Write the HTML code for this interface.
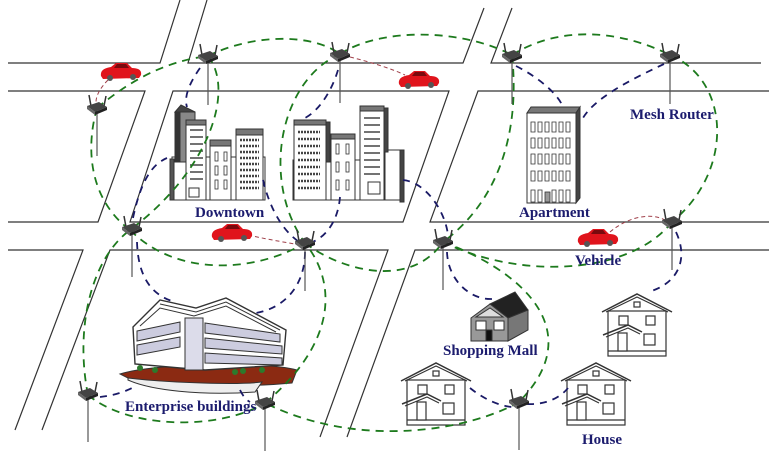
<!DOCTYPE html>
<html><head><meta charset="utf-8"><style>
html,body{margin:0;padding:0;background:#fff;}
svg{display:block;}
text{font-family:"Liberation Serif",serif;font-weight:bold;fill:#1c1c6e;font-size:15px;}
</style></head><body>
<svg width="769" height="460" viewBox="0 0 769 460" xmlns="http://www.w3.org/2000/svg">
<defs>
<g id="rt">
<line x1="0" y1="6" x2="0" y2="48" stroke="#555" stroke-width="1.2"/>
<line x1="-6" y1="-2" x2="-8" y2="-13" stroke="#333" stroke-width="1.5"/>
<line x1="7" y1="-2" x2="9" y2="-12" stroke="#333" stroke-width="1.5"/>
<path d="M-10,-2 L2,-6 L10,-1 L-2,4 Z" fill="#444"/>
<path d="M-10,-2 L-2,4 L-2,7 L-10,1 Z" fill="#666"/>
<path d="M-2,4 L10,-1 L10,2 L-2,7 Z" fill="#222"/>
</g>
<g id="car">
<path d="M-20,4 C-21,-2 -16,-4 -10,-5 L-5,-9 L6,-9 L11,-4 C17,-4 21,-2 20,3 L18,6 L-18,7 Z" fill="#e0141c"/>
<path d="M-4,-8 L5,-8 L8,-4 L-7,-4 Z" fill="#7a0a0e"/>
<circle cx="-11" cy="6" r="3" fill="#555"/><circle cx="12" cy="5" r="3" fill="#555"/>
</g>
<g id="house" fill="#fff" stroke="#333" stroke-width="1.2">
<rect x="4" y="17" width="58" height="45"/>
<line x1="4" y1="57" x2="62" y2="57"/>
<path d="M-2,18 L33,0 L68,18" fill="none" stroke-width="1.5"/>
<path d="M2,18 L33,3 L64,18" fill="none"/>
<rect x="30" y="8" width="6" height="5"/>
<rect x="15" y="22" width="9" height="9"/><rect x="42" y="22" width="9" height="9"/>
<path d="M-1,41 L24,31 L38,38" fill="none" stroke-width="1.5"/>
<path d="M2,43 L24,34 L36,40" fill="none"/>
<rect x="14" y="39" width="9" height="18"/>
<rect x="40" y="40" width="11" height="11"/>
</g>
</defs>

<g stroke="#333" stroke-width="1.2" fill="none">
<polyline points="8,63 160,63 180,0"/>
<polyline points="207,0 188,63 463,63 484,8"/>
<polyline points="512,8 491,63 761,63"/>
<polyline points="8,91 145,91 98,222 8,222"/>
<polygon points="173,91 449,91 403,222 130,222"/>
<polyline points="769,91 478,91 430,222 769,222"/>
<polyline points="8,250 83,250 15,430"/>
<polyline points="42,430 110,250 388,250 320,437"/>
<polyline points="769,250 415,250 347,437"/>
</g>

<g stroke="#333" stroke-width="1">
<rect x="172" y="157" width="93" height="43" fill="#fff"/>
<rect x="170" y="159" width="4" height="41" fill="#555"/>
<rect x="175" y="112" width="20" height="50" fill="#888"/>
<path d="M175,112 L181,105 L195,112 Z" fill="#444"/>
<rect x="175" y="112" width="5" height="50" fill="#333"/>
<rect x="186" y="124" width="20" height="76" fill="#fff"/>
<rect x="186" y="120" width="20" height="5" fill="#777"/>
<rect x="210" y="145" width="21" height="55" fill="#fff"/>
<rect x="210" y="140" width="21" height="6" fill="#777"/>
<rect x="236" y="134" width="27" height="66" fill="#fff"/>
<rect x="236" y="129" width="27" height="6" fill="#777"/>
<rect x="189" y="188" width="10" height="9" fill="#fff"/>
</g>
<g stroke="#444" stroke-width="1.5">
<line x1="190" y1="130" x2="203" y2="130"/><line x1="190" y1="137" x2="203" y2="137"/><line x1="190" y1="144" x2="203" y2="144"/><line x1="190" y1="151" x2="203" y2="151"/><line x1="190" y1="158" x2="203" y2="158"/><line x1="190" y1="165" x2="203" y2="165"/><line x1="190" y1="172" x2="203" y2="172"/><line x1="190" y1="179" x2="203" y2="179"/>
</g>
<g fill="none" stroke="#333" stroke-width="0.8">
<rect x="215" y="152" width="3" height="9"/><rect x="224" y="152" width="3" height="9"/>
<rect x="215" y="166" width="3" height="9"/><rect x="224" y="166" width="3" height="9"/>
<rect x="215" y="180" width="3" height="9"/><rect x="224" y="180" width="3" height="9"/>
</g>
<g stroke="#444" stroke-width="2.5" stroke-dasharray="2,1">
<line x1="240" y1="140" x2="259" y2="140"/><line x1="240" y1="146" x2="259" y2="146"/><line x1="240" y1="152" x2="259" y2="152"/><line x1="240" y1="158" x2="259" y2="158"/><line x1="240" y1="164" x2="259" y2="164"/><line x1="240" y1="170" x2="259" y2="170"/><line x1="240" y1="176" x2="259" y2="176"/><line x1="240" y1="182" x2="259" y2="182"/><line x1="240" y1="188" x2="259" y2="188"/>
</g>

<g stroke="#333" stroke-width="1">
<rect x="293" y="160" width="110" height="40" fill="#fff"/>
<rect x="385" y="150" width="18" height="50" fill="#fff"/>
<rect x="400" y="150" width="4" height="52" fill="#444"/>
<rect x="294" y="124" width="32" height="76" fill="#fff"/>
<rect x="294" y="120" width="32" height="5" fill="#777"/>
<rect x="326" y="122" width="4" height="40" fill="#444"/>
<rect x="331" y="138" width="24" height="62" fill="#fff"/>
<rect x="331" y="134" width="24" height="5" fill="#777"/>
<rect x="360" y="110" width="24" height="90" fill="#fff"/>
<rect x="360" y="106" width="24" height="5" fill="#777"/>
<rect x="384" y="108" width="4" height="44" fill="#444"/>
<rect x="368" y="182" width="12" height="12" fill="#fff"/>
</g>
<g stroke="#444" stroke-width="2.5" stroke-dasharray="2,1">
<line x1="298" y1="132" x2="320" y2="132"/><line x1="298" y1="139" x2="320" y2="139"/><line x1="298" y1="146" x2="320" y2="146"/><line x1="298" y1="153" x2="320" y2="153"/><line x1="298" y1="160" x2="320" y2="160"/><line x1="298" y1="167" x2="320" y2="167"/><line x1="298" y1="174" x2="320" y2="174"/><line x1="298" y1="181" x2="320" y2="181"/><line x1="298" y1="188" x2="320" y2="188"/>
</g>
<g fill="none" stroke="#333" stroke-width="0.8">
<rect x="336" y="144" width="3" height="10"/><rect x="346" y="144" width="3" height="10"/>
<rect x="336" y="162" width="3" height="10"/><rect x="346" y="162" width="3" height="10"/>
<rect x="336" y="180" width="3" height="10"/><rect x="346" y="180" width="3" height="10"/>
</g>
<g stroke="#444" stroke-width="1.5">
<line x1="364" y1="118" x2="380" y2="118"/><line x1="364" y1="125" x2="380" y2="125"/><line x1="364" y1="132" x2="380" y2="132"/><line x1="364" y1="139" x2="380" y2="139"/><line x1="364" y1="146" x2="380" y2="146"/><line x1="364" y1="153" x2="380" y2="153"/><line x1="364" y1="160" x2="380" y2="160"/><line x1="364" y1="167" x2="380" y2="167"/><line x1="364" y1="174" x2="380" y2="174"/>
</g>

<g stroke="#333" stroke-width="1">
<path d="M527,113 L531,107 L580,107 L576,113 Z" fill="#777"/>
<rect x="527" y="113" width="49" height="90" fill="#fff"/>
<path d="M576,113 L580,107 L580,198 L576,203 Z" fill="#444"/>
</g>
<g fill="none" stroke="#333" stroke-width="0.8">
<path d="M531,122h4v10h-4zM538,122h4v10h-4zM545,122h4v10h-4zM552,122h4v10h-4zM559,122h4v10h-4zM566,122h4v10h-4z"/>
<path d="M531,138h4v10h-4zM538,138h4v10h-4zM545,138h4v10h-4zM552,138h4v10h-4zM559,138h4v10h-4zM566,138h4v10h-4z"/>
<path d="M531,154h4v10h-4zM538,154h4v10h-4zM545,154h4v10h-4zM552,154h4v10h-4zM559,154h4v10h-4zM566,154h4v10h-4z"/>
<path d="M531,171h4v10h-4zM538,171h4v10h-4zM545,171h4v10h-4zM552,171h4v10h-4zM559,171h4v10h-4zM566,171h4v10h-4z"/>
<path d="M531,190h4v12h-4zM538,190h4v12h-4zM552,190h4v12h-4zM559,190h4v12h-4zM566,190h4v12h-4z"/>
<rect x="545" y="192" width="5" height="10" fill="#999"/>
</g>

<!-- enterprise building -->
<g stroke="#333" stroke-width="1">
<path d="M120,374 C150,364 260,360 297,370 L292,383 C240,388 160,386 128,378 Z" fill="#8b2a12"/>
<path d="M128,378 C170,383 240,385 262,382 L255,392 C200,396 150,390 128,380 Z" fill="#eee"/>
<path d="M133,327 L160,300 L196,308 L226,298 L286,330 L283,365 L205,370 L180,368 L135,364 Z" fill="#fff" stroke-width="1.4"/>
<path d="M160,304 L196,312 L226,302 L280,330" fill="none"/>
<path d="M140,326 L160,308 L194,316 L226,306 L276,332" fill="none"/>
<rect x="185" y="318" width="18" height="52" fill="#dcdcea"/>
<path d="M137,331 L180,322 L180,332 L137,341 Z" fill="#ccccdf"/>
<path d="M137,345 L180,337 L180,347 L137,355 Z" fill="#ccccdf"/>
<path d="M205,323 L280,334 L280,342 L205,333 Z" fill="#ccccdf"/>
<path d="M205,338 L282,346 L282,354 L205,348 Z" fill="#ccccdf"/>
<path d="M205,353 L282,358 L282,365 L205,363 Z" fill="#ccccdf"/>
</g>
<g fill="#2c7a2c"><circle cx="140" cy="368" r="3"/><circle cx="155" cy="370" r="3"/><circle cx="235" cy="372" r="3"/><circle cx="243" cy="371" r="3"/><circle cx="262" cy="370" r="3"/></g>

<g stroke="#333" stroke-width="1">
<path d="M490,304 L515,292 L528,310 L508,318 Z" fill="#222"/>
<path d="M508,318 L528,310 L528,330 L508,341 Z" fill="#777"/>
<path d="M471,318 L490,304 L508,318 L508,341 L471,341 Z" fill="#999"/>
<path d="M476,317 L490,308 L503,317 Z" fill="#ddd"/>
<rect x="476" y="321" width="10" height="9" fill="#fff"/><rect x="494" y="321" width="10" height="9" fill="#fff"/>
<rect x="486" y="330" width="6" height="11" fill="#111"/>
</g>

<use href="#house" x="604" y="294"/>
<use href="#house" x="403" y="363"/>
<use href="#house" x="563" y="363"/>

<g fill="none" stroke="#1d7a1d" stroke-width="1.8" stroke-dasharray="8,6">
<path d="M97,108 C125,85 160,62 208,56"/>
<path d="M208,56 C250,35 310,32 340,54"/>
<path d="M340,54 C380,28 460,28 512,55"/>
<path d="M512,55 C560,25 620,30 670,55"/>
<path d="M670,55 C730,80 735,170 672,222"/>
<path d="M672,222 C630,275 520,280 443,242"/>
<path d="M512,55 C520,130 500,200 443,242"/>
<path d="M208,56 C235,90 210,170 130,230"/>
<path d="M340,54 C280,80 260,180 305,243"/>
<path d="M97,108 C85,150 90,200 130,230"/>
<path d="M130,230 C180,280 260,270 305,243"/>
<path d="M305,243 C340,270 410,290 443,242"/>
<path d="M443,242 C520,270 590,330 519,402"/>
<path d="M519,402 C470,430 360,450 265,403"/>
<path d="M88,395 C130,430 220,430 265,403"/>
<path d="M88,395 C75,330 90,260 130,230"/>
<path d="M265,403 C340,340 335,280 305,243"/>
</g>

<g fill="none" stroke="#1a1a66" stroke-width="1.8" stroke-dasharray="7,6">
<path d="M200,68 C188,85 184,98 187,107"/>
<path d="M338,70 C332,90 320,110 305,118"/>
<path d="M133,218 C140,185 150,165 167,158"/>
<path d="M263,180 C270,210 285,235 303,244"/>
<path d="M340,197 C338,222 325,238 310,243"/>
<path d="M403,180 C425,182 445,210 448,235"/>
<path d="M516,66 C540,78 558,95 562,105"/>
<path d="M664,64 C630,80 590,100 581,122"/>
<path d="M676,232 C690,262 675,285 648,292"/>
<path d="M447,252 C448,280 470,300 492,299"/>
<path d="M470,388 C485,400 500,406 512,407"/>
<path d="M527,404 C545,405 560,398 568,388"/>
<path d="M137,242 C138,275 150,295 175,302"/>
<path d="M305,252 C305,285 285,308 256,313"/>
<path d="M100,397 C110,396 122,393 132,388"/>
<path d="M240,390 C243,396 246,400 250,402"/>
</g>

<g fill="none" stroke="#a0404a" stroke-width="1" stroke-dasharray="4,3">
<path d="M108,80 C100,88 96,96 96,102"/>
<path d="M350,57 C370,62 390,68 405,75"/>
<path d="M248,235 C270,240 290,243 300,245"/>
<path d="M610,232 C630,215 655,212 668,222"/>
</g>

<use href="#rt" x="97" y="108"/>
<use href="#rt" x="208" y="57"/>
<use href="#rt" x="340" y="55"/>
<use href="#rt" x="512" y="56"/>
<use href="#rt" x="670" y="56"/>
<use href="#rt" x="132" y="229"/>
<use href="#rt" x="305" y="243"/>
<use href="#rt" x="443" y="242"/>
<use href="#rt" x="672" y="222"/>
<use href="#rt" x="88" y="394"/>
<use href="#rt" x="265" y="403"/>
<use href="#rt" x="519" y="402"/>

<use href="#car" x="121" y="72"/>
<use href="#car" x="419" y="80"/>
<use href="#car" x="232" y="233"/>
<use href="#car" x="598" y="238"/>

<text x="195" y="217">Downtown</text>
<text x="519" y="217">Apartment</text>
<text x="630" y="119">Mesh Router</text>
<text x="575" y="265">Vehicle</text>
<text x="443" y="355">Shopping Mall</text>
<text x="125" y="411">Enterprise buildings</text>
<text x="582" y="444">House</text>
</svg>
</body></html>
